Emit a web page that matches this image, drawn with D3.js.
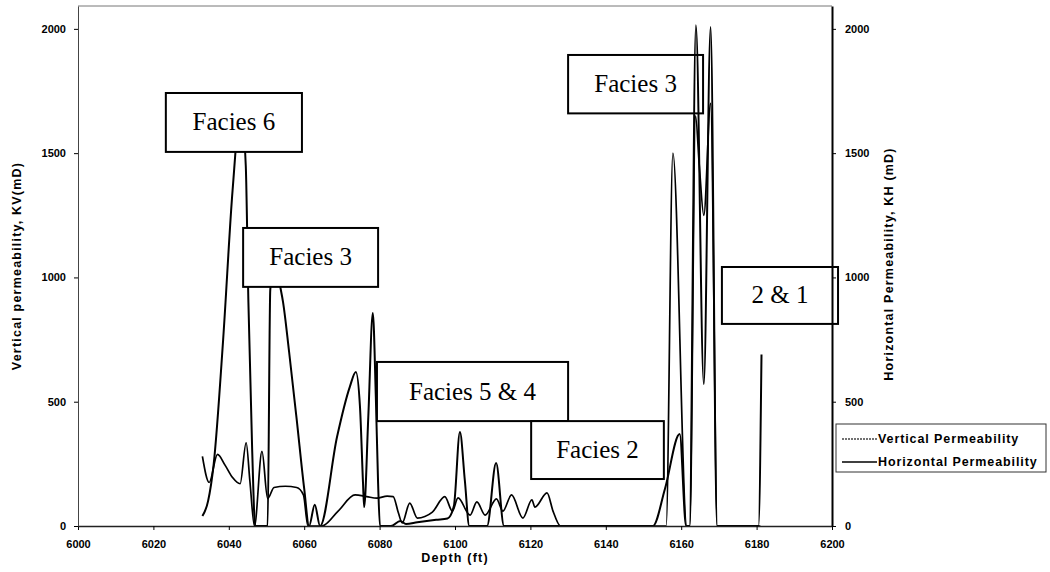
<!DOCTYPE html>
<html>
<head>
<meta charset="utf-8">
<script src="https://cdn.jsdelivr.net/npm/d3@7"></script>
<style>
  body { margin: 0; background: #fff; }
  .axis text { font-family: "Liberation Sans", Arial, sans-serif; font-weight: bold; font-size: 11px; fill: #000; }
  .axis line { stroke: #000; }
  .title { font-family: "Liberation Sans", Arial, sans-serif; font-weight: bold; font-size: 12.5px; letter-spacing: 1.2px; fill: #000; }
  .facies text { font-family: "Liberation Serif", "Times New Roman", serif; font-size: 25px; fill: #000; }
  .legend text { font-family: "Liberation Sans", Arial, sans-serif; font-weight: bold; font-size: 12.5px; letter-spacing: 0.9px; fill: #000; }
</style>
</head>
<body>
<div id="chart"></div>
<script>
// depth (ft) and permeability (mD)
const kvDepth = [6033, 6034.8, 6037, 6039, 6041, 6043, 6044.6, 6045.6, 6046.8, 6048.8, 6050.3, 6052, 6055, 6058, 6059.8, 6061,
  6064.7, 6069, 6073.5, 6076.6, 6079.3, 6082, 6083.6, 6085, 6086, 6088, 6090, 6094, 6097.3, 6099.3, 6100.8, 6104, 6105.8,
  6108, 6111, 6112.7, 6115, 6118, 6120.4, 6121.2, 6124.4, 6126, 6128, 6156, 6157.8, 6161.5, 6162.3, 6163.8, 6164.8, 6166,
  6167.8, 6169.6, 6181]
const kvValues = [280, 175, 288, 245, 195, 170, 335, 180, 0, 300, 110, 155, 160, 155, 125, 0,
  0, 60, 125, 118, 112, 120, 118, 52, 12, 92, 32, 56, 118, 60, 113, 44, 97,
  44, 109, 60, 125, 32, 105, 76, 133, 60, 0, 0, 1500, 0, 0, 1650, 1450, 1250,
  1700, 0, 0]

const khDepth = [6033, 6034.5, 6036, 6038.5, 6041, 6043.2, 6044.5, 6045.2, 6046.2, 6047, 6050.3, 6051, 6052.2, 6053.6, 6054.4,
  6056, 6058, 6060, 6061.3, 6062.8, 6064.2, 6068.7, 6072.1, 6073.7, 6074.8, 6075.6, 6075.9, 6077, 6078.2, 6079, 6079.6,
  6080.1, 6083, 6085.5, 6087, 6090, 6095, 6098, 6099.7, 6101.3, 6102.6, 6103.8, 6108.5, 6110.9, 6113, 6152.5, 6155.7,
  6159.6, 6161.3, 6162.2, 6163.9, 6166, 6167.8, 6169.5, 6180.5, 6181.3]
const khValues = [40, 100, 250, 750, 1350, 1680, 1450, 900, 306, 0, 0, 950, 1070, 966, 900,
  700, 430, 150, 0, 85, 0, 358, 560, 620, 479, 173, 76, 438, 857, 519, 173,
  0, 0, 20, 8, 15, 25, 30, 80, 378, 185, 0, 0, 253, 0, 0, 150,
  370, 0, 0, 2015, 570, 2008, 0, 0, 690]

const xTicks = [6000, 6020, 6040, 6060, 6080, 6100, 6120, 6140, 6160, 6180, 6200]
const yTicks = [0, 500, 1000, 1500, 2000]

// facies labels: text, depth range, value range
const faciesNames = ["Facies 3", "Facies 6", "Facies 3", "Facies 5 & 4", "Facies 2", "2 & 1"]
const faciesDepth = [[6130, 6165.8], [6023.3, 6059.4], [6043.8, 6079.6], [6079.3, 6130], [6120.2, 6155.4], [6170.8, 6201.6]]
const faciesValue = [[1660, 1895], [1505, 1742], [962, 1199], [422, 660], [189, 422], [813, 1042]]

const seriesNames = ["Vertical Permeability", "Horizontal Permeability"]

const width = 1050, height = 572
const margin = {left: 78, right: 218, top: 6, bottom: 46}
const innerW = width - margin.left - margin.right
const innerH = height - margin.top - margin.bottom

const svg = d3.select("#chart").append("svg")
  .attr("width", width).attr("height", height)
  .style("background", "#fff")

const x = d3.scaleLinear().domain([6000, 6200]).range([margin.left, margin.left + innerW])
const yL = d3.scaleLinear().domain([0, 2092]).range([margin.top + innerH, margin.top])
const yR = d3.scaleLinear().domain([0, 2092]).range([margin.top + innerH, margin.top])

svg.append("defs").append("clipPath").attr("id", "plot-clip")
  .append("rect")
  .attr("x", margin.left).attr("y", margin.top)
  .attr("width", innerW).attr("height", innerH)

// top border of plot area
svg.append("line")
  .attr("x1", margin.left).attr("x2", margin.left + innerW)
  .attr("y1", margin.top).attr("y2", margin.top)
  .attr("stroke", "#777").attr("stroke-width", 1)

function drawBox(i) {
  const g = svg.append("g").attr("class", "facies")
  const x0 = x(faciesDepth[i][0]), x1 = x(faciesDepth[i][1])
  const y0 = yL(faciesValue[i][1]), y1 = yL(faciesValue[i][0])
  g.append("rect")
    .attr("x", x0).attr("y", y0)
    .attr("width", x1 - x0).attr("height", y1 - y0)
    .attr("fill", "#fff").attr("stroke", "#000").attr("stroke-width", 2)
  g.append("text")
    .attr("x", (x0 + x1) / 2).attr("y", (y0 + y1) / 2 + 8)
    .attr("text-anchor", "middle")
    .text(faciesNames[i])
}

// the right "Facies 3" box sits under the curves
drawBox(0)

const lineKV = d3.line()
  .x((d, i) => x(kvDepth[i]))
  .y(d => yL(d))
  .curve(d3.curveMonotoneX)
const lineKH = d3.line()
  .x((d, i) => x(khDepth[i]))
  .y(d => yR(d))
  .curve(d3.curveMonotoneX)

const curves = svg.append("g").attr("clip-path", "url(#plot-clip)")
curves.append("path").datum(kvValues)
  .attr("d", lineKV)
  .attr("fill", "none").attr("stroke", "#000").attr("stroke-width", 1.7)
curves.append("path").datum(khValues)
  .attr("d", lineKH)
  .attr("fill", "none").attr("stroke", "#000").attr("stroke-width", 2)

for (let i = 1; i < faciesNames.length; i++) drawBox(i)

// axes
const xAxis = svg.append("g").attr("class", "axis")
  .attr("transform", `translate(0,${margin.top + innerH})`)
  .call(d3.axisBottom(x).tickValues(xTicks).tickSize(4).tickSizeOuter(0).tickPadding(10).tickFormat(d3.format("d")))
xAxis.select(".domain").attr("stroke", "#222").attr("stroke-width", 1.5)

const yAxisL = svg.append("g").attr("class", "axis")
  .attr("transform", `translate(${margin.left},0)`)
  .call(d3.axisLeft(yL).tickValues(yTicks).tickSize(4).tickSizeOuter(0).tickPadding(8).tickFormat(d3.format("d")))
yAxisL.select(".domain").attr("stroke", "#444").attr("stroke-width", 1)

const yAxisR = svg.append("g").attr("class", "axis")
  .attr("transform", `translate(${margin.left + innerW},0)`)
  .call(d3.axisRight(yR).tickValues(yTicks).tickSize(4).tickSizeOuter(0).tickPadding(9).tickFormat(d3.format("d")))
yAxisR.select(".domain").attr("stroke", "#000").attr("stroke-width", 2)

// axis titles
svg.append("text").attr("class", "title")
  .attr("transform", `translate(21,${margin.top + innerH / 2}) rotate(-90)`)
  .attr("text-anchor", "middle")
  .text("Vertical permeability, KV(mD)")
svg.append("text").attr("class", "title")
  .attr("transform", `translate(893,${margin.top + innerH / 2 - 2}) rotate(-90)`)
  .attr("text-anchor", "middle")
  .text("Horizontal Permeability, KH (mD)")
svg.append("text").attr("class", "title")
  .attr("x", margin.left + innerW / 2).attr("y", 562)
  .attr("text-anchor", "middle")
  .text("Depth (ft)")

// legend
const legend = svg.append("g").attr("class", "legend").attr("transform", "translate(836,424)")
legend.append("rect")
  .attr("width", 210).attr("height", 48)
  .attr("fill", "#fff").attr("stroke", "#333").attr("stroke-width", 1)
seriesNames.forEach((name, i) => {
  const row = legend.append("g").attr("transform", `translate(0,${15 + i * 23})`)
  row.append("line")
    .attr("x1", 6).attr("x2", 41)
    .attr("stroke", i === 0 ? "#444" : "#000")
    .attr("stroke-width", i === 0 ? 1.6 : 1.4)
    .attr("stroke-dasharray", i === 0 ? "2,1" : null)
  row.append("text").attr("x", 42).attr("y", 4).text(name)
})
</script>
</body>
</html>
